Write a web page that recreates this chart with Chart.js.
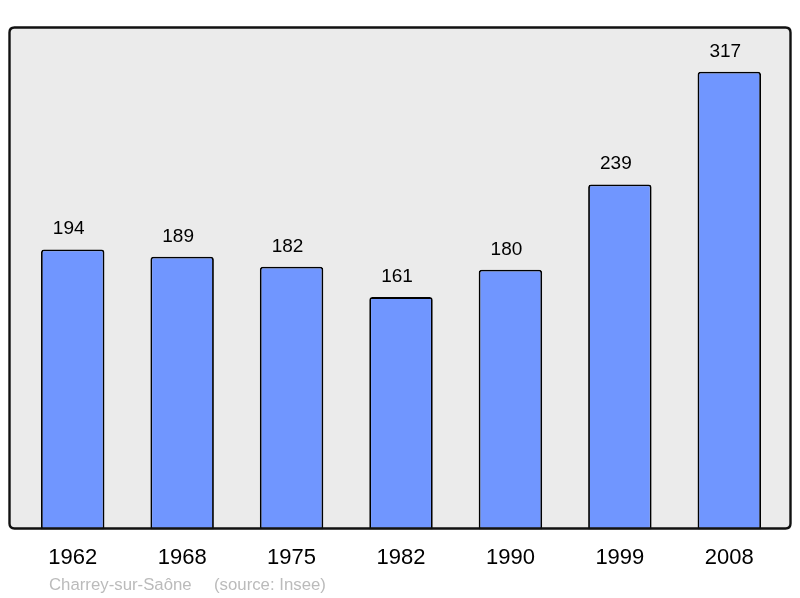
<!DOCTYPE html>
<html>
<head>
<meta charset="utf-8">
<script src="https://cdn.jsdelivr.net/npm/chart.js@4"></script>
<style>
html,body{margin:0;padding:0;background:#fff;}
#wrap{width:800px;height:598px;position:relative;}
</style>
</head>
<body>
<div id="wrap"><canvas id="c" width="800" height="598"></canvas></div>
<script>
const years = ["1962","1968","1975","1982","1990","1999","2008"];
const population = [194,189,182,161,180,239,317];
const footerPlace = "Charrey-sur-Saône";
const footerSource = "(source: Insee)";

function roundRect(ctx,x,y,w,h,r){
  ctx.beginPath();
  ctx.moveTo(x+r,y);
  ctx.lineTo(x+w-r,y);
  ctx.quadraticCurveTo(x+w,y,x+w,y+r);
  ctx.lineTo(x+w,y+h-r);
  ctx.quadraticCurveTo(x+w,y+h,x+w-r,y+h);
  ctx.lineTo(x+r,y+h);
  ctx.quadraticCurveTo(x,y+h,x,y+h-r);
  ctx.lineTo(x,y+r);
  ctx.quadraticCurveTo(x,y,x+r,y);
  ctx.closePath();
}

const framePlugin = {
  id:'frame',
  beforeDraw(chart){
    const ctx = chart.ctx;
    ctx.save();
    ctx.fillStyle='#fff';
    ctx.fillRect(0,0,chart.width,chart.height);
    roundRect(ctx,9.5,27.5,781,501,5);
    ctx.fillStyle='#ebebeb';
    ctx.fill();
    ctx.restore();
  },
  afterDatasetsDraw(chart){
    const ctx = chart.ctx;
    ctx.save();
    roundRect(ctx,9.5,27.5,781,501,5);
    ctx.lineWidth=2.4;
    ctx.strokeStyle='#111';
    ctx.stroke();
    const meta = chart.getDatasetMeta(0);
    ctx.fillStyle='#000';
    ctx.font='19px "Liberation Sans", Arial, sans-serif';
    ctx.textAlign='center';
    ctx.textBaseline='alphabetic';
    meta.data.forEach((bar,i)=>{
      ctx.fillText(String(population[i]), bar.x-4, bar.y-15);
    });
    ctx.fillStyle='#bbbbbb';
    ctx.font='16.8px "Liberation Sans", Arial, sans-serif';
    ctx.textAlign='left';
    ctx.fillText(footerPlace, 49, 590);
    ctx.fillText(footerSource, 214, 590);
    ctx.restore();
  }
};

new Chart(document.getElementById('c'),{
  type:'bar',
  data:{
    labels:years,
    datasets:[{
      data:population,
      backgroundColor:'#7096ff',
      borderColor:'#000',
      borderWidth:1.8,
      borderRadius:{topLeft:3,topRight:3,bottomLeft:0,bottomRight:0},
      borderSkipped:false,
      categoryPercentage:1,
      barPercentage:0.58
    }]
  },
  options:{
    responsive:false,
    animation:false,
    devicePixelRatio:1,
    layout:{padding:{left:18,right:16,top:27,bottom:12}},
    plugins:{legend:{display:false},tooltip:{enabled:false}},
    scales:{
      y:{display:false,min:0,max:348},
      x:{
        grid:{display:false,drawTicks:false},
        border:{display:false},
        ticks:{color:'#000',font:{family:'"Liberation Sans", Arial, sans-serif',size:22},padding:15,maxRotation:0,autoSkip:false}
      }
    }
  },
  plugins:[framePlugin]
});
</script>
</body>
</html>
